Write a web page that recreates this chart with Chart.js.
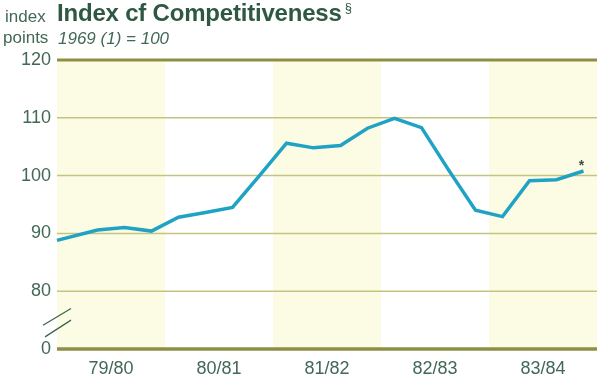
<!DOCTYPE html>
<html>
<head>
<meta charset="utf-8">
<script src="https://cdn.jsdelivr.net/npm/chart.js@4"></script>
<style>
  html, body { margin: 0; padding: 0; background: #ffffff; }
  #wrap { position: relative; width: 600px; height: 380px; overflow: hidden; }
  #c { position: absolute; left: 0; top: 0; }
  .t { position: absolute; white-space: nowrap; font-family: "Liberation Sans", Arial, sans-serif; color: #436856; }
  #unit1 { left: 5px; top: 7px; font-size: 17px; }
  #unit2 { left: 3px; top: 28px; font-size: 17px; }
  #title { left: 57px; top: -1px; font-size: 24px; font-weight: bold; color: #2f5843; letter-spacing: -0.2px; }
  #title sup { font-size: 13px; font-weight: normal; vertical-align: top; position: relative; top: 1px; margin-left: 3px; }
  #sub { left: 58px; top: 29px; font-size: 17px; font-style: italic; }
</style>
</head>
<body>
<div id="wrap">
  <canvas id="c" width="600" height="380"></canvas>
  <div class="t" id="unit1">index</div>
  <div class="t" id="unit2">points</div>
  <div class="t" id="title">Index cf Competitiveness<sup>§</sup></div>
  <div class="t" id="sub">1969 (1) = 100</div>
</div>
<script>
// ---- data ----
const yearLabels = ["79/80", "80/81", "81/82", "82/83", "83/84"];
const yearCentres = [2, 6, 10, 14, 18];           // quarter units
const shadedYears = [[0, 4], [8, 12], [16, 20]];  // quarter units
const quarterPos = [0, 1.5, 2.5, 3.5, 4.5, 5.5, 6.5, 7.5, 8.5, 9.5, 10.5, 11.5, 12.5, 13.5, 14.5, 15.5, 16.5, 17.5, 18.5, 19.5];
const indexValues = [88.8, 90.6, 91.0, 90.4, 92.8, 93.6, 94.5, 100.0, 105.6, 104.8, 105.2, 108.2, 109.9, 108.3, 101.0, 94.0, 92.9, 99.1, 99.3, 100.8];
const yTicks = [70, 80, 90, 100, 110, 120];
const yTickLabels = ["0", "80", "90", "100", "110", "120"];

const points = quarterPos.map((x, i) => ({ x: x, y: indexValues[i] }));

const bandPlugin = {
  id: 'bands',
  beforeDatasetsDraw(chart) {
    const { ctx, chartArea, scales } = chart;
    ctx.save();
    ctx.fillStyle = '#fcfce5';
    shadedYears.forEach(([a, b]) => {
      const x1 = scales.x.getPixelForValue(a);
      const x2 = scales.x.getPixelForValue(b);
      ctx.fillRect(x1, chartArea.top, x2 - x1, chartArea.bottom - chartArea.top);
    });
    ctx.restore();
  }
};

const gridRedraw = {
  id: 'gridRedraw',
  beforeDatasetsDraw(chart) {
    const { ctx, chartArea, scales } = chart;
    const y = scales.y;
    ctx.save();
    yTicks.forEach(v => {
      const py = y.getPixelForValue(v);
      const heavy = (v === 120 || v === 70);
      ctx.strokeStyle = heavy ? '#8e8f45' : '#c3c482';
      ctx.lineWidth = heavy ? (v === 70 ? 3.5 : 3) : 1.5;
      ctx.beginPath();
      ctx.moveTo(chartArea.left, py);
      ctx.lineTo(chartArea.right, py);
      ctx.stroke();
    });
    // axis break marks
    const left = chartArea.left;
    ctx.strokeStyle = '#3f6452';
    ctx.lineWidth = 1.3;
    ctx.beginPath();
    ctx.moveTo(left - 14, y.getPixelForValue(74.1));
    ctx.lineTo(left + 14, y.getPixelForValue(77.0));
    ctx.moveTo(left - 12, y.getPixelForValue(72.1));
    ctx.lineTo(left + 14, y.getPixelForValue(75.0));
    ctx.stroke();
    ctx.restore();
  }
};

const starPlugin = {
  id: 'star',
  afterDatasetsDraw(chart) {
    const meta = chart.getDatasetMeta(0);
    const last = meta.data[meta.data.length - 1];
    const ctx = chart.ctx;
    ctx.save();
    ctx.fillStyle = '#4a4a4a';
    ctx.font = 'bold 14px "Liberation Sans", Arial, sans-serif';
    ctx.textAlign = 'center';
    ctx.textBaseline = 'middle';
    ctx.fillText('*', last.x - 2, last.y - 5);
    ctx.restore();
  }
};

new Chart(document.getElementById('c'), {
  type: 'line',
  data: {
    datasets: [{
      data: points,
      borderColor: '#1fa2c4',
      borderWidth: 3.5,
      pointRadius: 0,
      tension: 0,
      fill: false,
      clip: false
    }]
  },
  options: {
    responsive: false,
    animation: false,
    events: [],
    layout: { padding: { left: 0, right: 3, top: 60, bottom: 0 } },
    plugins: { legend: { display: false }, tooltip: { enabled: false } },
    scales: {
      x: {
        type: 'linear',
        min: 0, max: 20,
        afterBuildTicks(scale) { scale.ticks = yearCentres.map(v => ({ value: v })); },
        afterFit(scale) { scale.height = 31; },
        grid: { display: false, drawTicks: false },
        border: { display: false },
        ticks: {
          autoSkip: false, maxRotation: 0, padding: 9,
          color: '#436856',
          font: { family: '"Liberation Sans", Arial, sans-serif', size: 18 },
          callback(v) { const i = yearCentres.indexOf(v); return i >= 0 ? yearLabels[i] : ''; }
        }
      },
      y: {
        type: 'linear',
        min: 70, max: 120,
        afterBuildTicks(scale) { scale.ticks = yTicks.map(v => ({ value: v })); },
        afterFit(scale) { scale.width = 57; },
        grid: { display: false, drawTicks: false },
        border: { display: false },
        ticks: {
          padding: 6,
          color: '#436856',
          font: { family: '"Liberation Sans", Arial, sans-serif', size: 18 },
          callback(v) { const i = yTicks.indexOf(v); return i >= 0 ? yTickLabels[i] : ''; }
        }
      }
    }
  },
  plugins: [bandPlugin, gridRedraw, starPlugin]
});
</script>
</body>
</html>
